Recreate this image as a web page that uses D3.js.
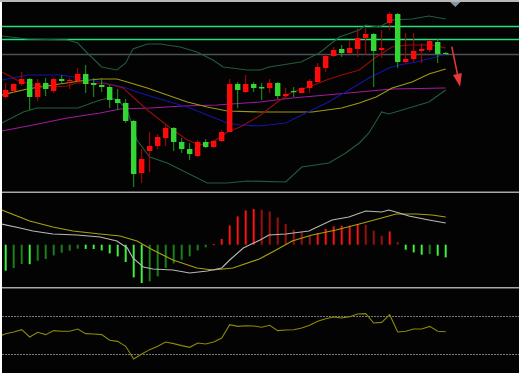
<!DOCTYPE html>
<html>
<head>
<meta charset="utf-8">
<script src="https://cdn.jsdelivr.net/npm/d3@7"></script>
<style>
  html, body { margin: 0; padding: 0; background: #fff; }
  svg { display: block; }
</style>
</head>
<body>
<svg id="chart"></svg>
<script>
// candles: [open, high, low, close] (arbitrary price units)
const candles = [
  [103,117,102,110],[109,117,107,116],[116,128,114,121],[121,122,90,103],
  [103,121,99,117],[117,122,104,111],[109,122,107,121],[121,125,117,119],
  [119,122,111,120],[119,132,118,126],[126,135,107,116],[117,122,103,115],
  [115,122,108,113],[113,115,92,100],[101,111,90,97],[97,101,77,79],
  [79,80,13,26],[27,51,17,41],[49,68,28,54],[54,66,51,63],
  [62,75,54,72],[72,73,49,58],[58,62,47,51],[51,57,40,46],
  [44,60,43,58],[58,61,52,53],[53,60,52,59],[59,70,58,68],
  [68,121,68,116],[116,118,92,110],[108,125,107,116],[116,118,108,112],
  [113,117,100,111.5],[112,121,107,117],[117,118,101,104],[104,112,101,106],
  [109,113,103,108],[107,113,107,112],[112,121,107,119],[118,137,118,133],
  [132,146,128,144],[144,153,143,150],[151,155,143,147],[147,160,146,152],
  [151,172,143,162],[162,172,145,166],[166,167,113,149],[150,170,142,152],
  [177,188,170,186],[186,187,132,138],[138,167,137,141],[141,167,138,149],
  [149,157,137,151],[150,160,148,159],[158,161,137,146],[147,148,146,146.5]
];

// overlay lines on the price panel: [bar index, value]
const bbUpper = [[-0.5,164],[2.7,161],[7.7,160],[9,157],[10.2,147],[12,133],[13.9,130],[15,137],[15.9,151],[17.7,156],[19.3,156],[21.8,153],[23.9,148],[25.9,140],[27.2,133],[30.2,130],[31.8,130],[32.9,133],[36.9,138],[39.2,147],[41.7,163],[44.2,170],[45,175],[46.7,173],[48.3,180],[50.8,181],[52.9,184],[55,181]];
const bbLower = [[-0.5,77],[2.2,88],[3.9,92],[9,92],[11.8,100],[13,102],[14,100],[15.2,90],[16.4,60],[18,43],[20.2,37],[22.7,27],[25.2,17],[27.7,17],[30.2,19],[35,18],[37,33],[40.4,37],[42.5,47],[44.2,57],[45.4,67],[47,88],[47.9,86],[50.4,92],[52.9,98],[55,110]];
const maFast = [[-0.5,128],[1.4,120],[3.4,115],[5.5,113],[7.7,114],[8.9,117],[10.2,117],[12.7,116],[14.7,112],[15.9,103],[17.7,90],[19.3,80],[20.9,70],[22.7,60],[24.3,55],[25.9,58],[27.7,68],[29.3,73],[31.7,84],[33.8,97],[35.8,108],[37.9,113],[40.1,120],[42,125],[44.2,130],[46.3,143],[48.3,153],[50.4,155],[53.3,155],[55,152]];
const maMid = [[-0.5,120],[2.7,125],[6.8,125],[9.3,122],[11.8,118],[14.7,113],[16.8,107],[19.7,100],[22.7,93],[25.2,85],[27.7,77],[29.3,75],[31.7,74],[35,77],[37,85],[40.1,97],[42.5,108],[45.4,122],[47.9,132],[49.2,135],[51.3,138],[53.3,142],[55,146]];
const maSlow = [[-0.5,105],[2.7,111],[5.9,115],[9.3,119],[11.8,121],[13.9,121],[15.2,118],[17.7,112],[20.2,105],[22.7,98],[25.2,93],[27.7,89],[31.8,88],[35.4,88],[38.3,88],[42,92],[44.2,97],[46.3,103],[48.3,112],[50.8,118],[52.9,126],[55,131]];
const maLong = [[-0.5,69],[3.4,75],[7.7,82],[11.8,87],[14.3,91],[18,92],[22.2,94],[26.4,95],[31.8,98],[35.8,102],[40.1,105],[44.2,108],[48.3,111],[55,112]];
const levels = [174, 161];
const pivot = 146.3;

// MACD panel
const macdHist = [-26,-23.3,-19.3,-19.5,-16,-14.3,-10.7,-8,-6,-4,-4.2,-4.3,-5.7,-8.7,-11.7,-17.3,
  -32.7,-38.3,-36.7,-31.7,-23.3,-18.7,-15,-11.7,-5.7,-2.7,0.6,5.7,19.3,28.3,34.3,35.7,
  35,33.3,27.3,20.7,15,12.3,9,11.7,15.7,18.3,19,19.1,20.7,20,14,9,13.3,2.7,-5,-7.7,-10,-9.3,-11,-12.7];
const macdLine = [[-0.5,20.7],[1.8,16.7],[3.4,13.7],[5.9,10.7],[8.9,9.7],[11.8,7.7],[13.9,3.7],[15.2,-3.3],[15.9,-13.3],[17.2,-22.3],[18.4,-24.3],[20.9,-25.3],[23,-28.3],[25.2,-26.3],[27,-23.3],[28,-15.3],[29.7,-3.3],[31.8,4.7],[32.9,9.7],[35,10.7],[37.9,13.7],[40.8,24.7],[42.9,27.7],[45,33.7],[47,32.7],[47.9,34.7],[49.2,31.7],[50.4,28.7],[52.9,24.7],[55,21.7]];
const signalLine = [[-0.5,34.7],[3,23.7],[5.9,17.7],[8.4,13.7],[11.8,10.7],[14.3,8.7],[16.4,3.7],[18.4,-5.3],[20.9,-15.3],[23.9,-23.3],[25.9,-25.3],[28.4,-23.3],[31.7,-14.3],[33.8,-5.3],[35.8,3.7],[38.3,9.7],[41.3,14.7],[44.2,20.7],[47,26.7],[48.8,30.7],[51.3,30.7],[53.3,29.7],[55,27.7]];

// RSI panel, one value per bar (first one sits just left of bar 0)
const rsiFirst = 49.8;
const rsi = [51.4,53.2,55.6,47.9,52.8,50.4,54.6,53.9,53.9,56.3,51.4,51.1,50.4,44.4,43.3,38.1,
  24.7,30.0,34.6,38.1,42.6,40.9,38.8,37.0,41.6,40.5,42.6,46.8,60.9,59.1,59.8,59.5,
  58.1,60.2,54.6,55.3,55.6,57.4,60.2,64.4,67.2,68.9,67.9,69.3,72.1,72.5,62.6,63.3,
  71.4,53.2,53.9,56.3,56.3,59.1,53.9,53.5];
const rsiLevels = [70, 30];

const width = 519;
const height = 375;

const svg = d3.select("#chart")
  .attr("width", width)
  .attr("height", height);

// frame
svg.append("rect").attr("width", width).attr("height", height).attr("fill", "#fff");
svg.append("rect").attr("x", 0).attr("y", 0).attr("width", width).attr("height", 2).attr("fill", "#b8b8b8");
svg.append("rect").attr("x", 2).attr("y", 2).attr("width", width - 2).attr("height", 371).attr("fill", "#030303");

const panels = {
  main: { top: 2, bottom: 191.5 },
  macd: { top: 193, bottom: 287 },
  rsi: { top: 288.5, bottom: 373 }
};

const defs = svg.append("defs");
Object.entries(panels).forEach(([k, p]) => {
  defs.append("clipPath").attr("id", "clip-" + k)
    .append("rect").attr("x", 2).attr("y", p.top).attr("width", width - 2).attr("height", p.bottom - p.top);
});

// separators
svg.append("rect").attr("x", 2).attr("y", 191.5).attr("width", width - 2).attr("height", 1.5).attr("fill", "#a8a8a8");
svg.append("rect").attr("x", 2).attr("y", 287).attr("width", width - 2).attr("height", 1.5).attr("fill", "#a8a8a8");

const x = d3.scaleLinear().domain([0, 55]).range([5.7, 445.7]);
const yP = d3.scaleLinear().domain([10, 198]).range([190, 2]);
const yM = d3.scaleLinear().domain([-42, 50]).range([286.7, 194.7]);
const yR = d3.scaleLinear().domain([30, 70]).range([354, 316]);

const lineP = d3.line().x(d => x(d[0])).y(d => yP(d[1]));
const lineM = d3.line().x(d => x(d[0])).y(d => yM(d[1]));

// ---- main panel
const gMain = svg.append("g").attr("clip-path", "url(#clip-main)");

gMain.selectAll("line.level")
  .data(levels)
  .enter().append("line")
  .attr("x1", 2).attr("x2", width)
  .attr("y1", d => Math.round(yP(d)) + 0.5).attr("y2", d => Math.round(yP(d)) + 0.5)
  .attr("stroke", "#22e27c").attr("stroke-width", 1.3);

gMain.append("line")
  .attr("x1", 2).attr("x2", width)
  .attr("y1", Math.round(yP(pivot)) + 0.5).attr("y2", Math.round(yP(pivot)) + 0.5)
  .attr("stroke", "#4a5258").attr("stroke-width", 1.3);

const overlays = [
  { data: maLong, color: "#a01aa0" },
  { data: maSlow, color: "#a09a12" },
  { data: maMid, color: "#1414a8" },
  { data: maFast, color: "#960c0c" },
  { data: bbUpper, color: "#235c3c" },
  { data: bbLower, color: "#235c3c" }
];
overlays.forEach(o => {
  gMain.append("path").datum(o.data)
    .attr("d", lineP)
    .attr("fill", "none")
    .attr("stroke", o.color)
    .attr("stroke-width", 1.1);
});

const bodyW = 5.4;
const candle = gMain.selectAll("g.candle")
  .data(candles)
  .enter().append("g");

candle.append("line")
  .attr("x1", (d, i) => x(i)).attr("x2", (d, i) => x(i))
  .attr("y1", d => yP(d[1])).attr("y2", d => yP(d[2]))
  .attr("stroke", d => d[3] >= d[0] ? "#c00000" : "#1f9a1f")
  .attr("stroke-width", 1);

candle.append("rect")
  .attr("x", (d, i) => x(i) - bodyW / 2)
  .attr("width", bodyW)
  .attr("y", d => yP(Math.max(d[0], d[3])))
  .attr("height", d => Math.max(1.2, Math.abs(yP(d[0]) - yP(d[3]))))
  .attr("fill", d => d[3] >= d[0] ? "#ff0a0a" : "#34d634");

// marker triangle at top and the red down arrow
const tri = [[56.2, 198], [55.55, 197.5], [56.85, 197.5]];
gMain.append("path")
  .attr("d", `M${x(55.55)},${yP(198)} L${x(56.85)},${yP(198)} L${x(56.2)},${yP(193)} Z`)
  .attr("fill", "#8494a2");

const aStart = [55.75, 153.3], aEnd = [56.8, 113.3];
const ax0 = x(aStart[0]), ay0 = yP(aStart[1]), ax1 = x(aEnd[0]), ay1 = yP(aEnd[1]);
const ang = Math.atan2(ay1 - ay0, ax1 - ax0);
const headLen = 13, headW = 4.5;
const bx = ax1 - headLen * Math.cos(ang), by = ay1 - headLen * Math.sin(ang);
gMain.append("line")
  .attr("x1", ax0).attr("y1", ay0).attr("x2", bx).attr("y2", by)
  .attr("stroke", "#e8383a").attr("stroke-width", 1.5);
gMain.append("path")
  .attr("d", `M${ax1},${ay1} L${bx + headW * Math.sin(ang)},${by - headW * Math.cos(ang)} L${bx - headW * Math.sin(ang)},${by + headW * Math.cos(ang)} Z`)
  .attr("fill", "#e8383a");

// ---- MACD panel
const gMacd = svg.append("g").attr("clip-path", "url(#clip-macd)");

gMacd.selectAll("rect.hist")
  .data(macdHist)
  .enter().append("rect")
  .attr("x", (d, i) => x(i) - 1)
  .attr("width", 2)
  .attr("y", d => yM(Math.max(0, d)))
  .attr("height", d => Math.max(1, Math.abs(yM(d) - yM(0))))
  .attr("fill", (d, i) => {
    const prev = i > 0 ? macdHist[i - 1] : d;
    if (d >= 0) return d >= prev ? "#ff1010" : "#9a0e0e";
    return d <= prev ? "#3ef03e" : "#1a7f1a";
  });

gMacd.append("path").datum(signalLine)
  .attr("d", lineM).attr("fill", "none")
  .attr("stroke", "#a8a010").attr("stroke-width", 1.2);
gMacd.append("path").datum(macdLine)
  .attr("d", lineM).attr("fill", "none")
  .attr("stroke", "#b8b8b8").attr("stroke-width", 1.1);

// ---- RSI panel
const gRsi = svg.append("g").attr("clip-path", "url(#clip-rsi)");

gRsi.selectAll("line.rl")
  .data(rsiLevels)
  .enter().append("line")
  .attr("x1", 2).attr("x2", width)
  .attr("y1", d => Math.round(yR(d)) + 0.5).attr("y2", d => Math.round(yR(d)) + 0.5)
  .attr("stroke", "#7a7a7a").attr("stroke-width", 1)
  .attr("stroke-dasharray", "2,1");

const rsiPts = [[-0.5, rsiFirst]].concat(rsi.map((v, i) => [i, v]));
gRsi.append("path").datum(rsiPts)
  .attr("d", d3.line().x(d => x(d[0])).y(d => yR(d[1])))
  .attr("fill", "none")
  .attr("stroke", "#8c8a08").attr("stroke-width", 1.1);
</script>
</body>
</html>
